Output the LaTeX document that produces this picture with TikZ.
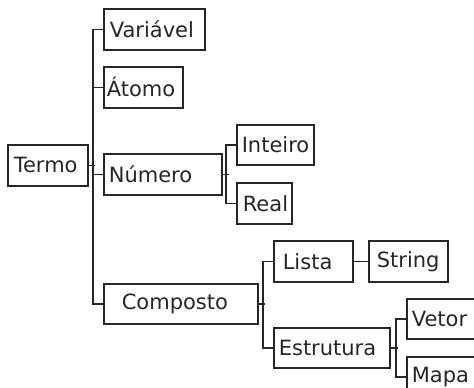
\documentclass[tikz,border=0pt]{standalone}
\usepackage{fontspec}
\setmainfont{DejaVu Sans}
\begin{document}
\begin{tikzpicture}[x=1pt,y=-1pt,
  tbox/.style={draw=black!85, line width=1.6pt, anchor=north west, align=left,
    inner ysep=0pt, font=\fontsize{21}{23}\selectfont, text=black!85},
  conn/.style={draw=black!85, line width=1.6pt}]
\useasboundingbox (0,0) rectangle (474,388);
% boxes: text width = W - 2*pad, inner xsep = pad
\node[tbox, inner xsep=6pt, text width=68pt, minimum height=41pt] (termo) at (7,144) {Termo};
\node[tbox, inner xsep=6pt, text width=89pt, minimum height=41pt] (var) at (103,8) {Variável};
\node[tbox, inner xsep=3pt, text width=73pt, minimum height=41pt] (atomo) at (103,66) {Átomo};
\node[tbox, inner xsep=5pt, text width=108pt, minimum height=41pt] (num) at (103,153) {Número};
\node[tbox, inner xsep=5pt, text width=67pt, minimum height=40pt] (int) at (236,124) {Inteiro};
\node[tbox, inner xsep=6pt, text width=43pt, minimum height=41pt] (real) at (236,182) {Real};
\node[tbox, inner xsep=18pt, text width=118pt, minimum height=40pt] (comp) at (103,283) {Composto};
\node[tbox, inner xsep=9pt, text width=61pt, minimum height=41pt] (lista) at (273,240) {Lista};
\node[tbox, inner xsep=8pt, text width=63pt, minimum height=41pt] (str) at (368,240) {String};
\node[tbox, inner xsep=5pt, text width=106pt, minimum height=40pt] (estr) at (273,327) {Estrutura};
\node[tbox, inner xsep=5pt, text width=70pt, minimum height=40pt] (vetor) at (406,298) {Vetor};
\node[tbox, inner xsep=5pt, text width=70pt, minimum height=40pt] (mapa) at (406,356) {Mapa};
% main trunk
\draw[conn] (var.west) -- ++(-10,0) |- (comp.west);
\draw[conn] (termo.east) -- ++(6.5,0);
\draw[conn] (atomo.west) -- ++(-10,0);
\draw[conn] (num.west) -- ++(-10,0);
% Numero
\draw[conn] (int.west) -- ++(-10,0) |- (real.west);
\draw[conn] (num.east) -- ++(6,0);
% Composto
\draw[conn] (lista.west) -- ++(-10,0) |- (estr.west);
\draw[conn] (comp.east) -- ++(6,0);
\draw[conn] (lista.east) -- (str.west);
% Estrutura
\draw[conn] (vetor.west) -- ++(-10,0) |- (mapa.west);
\draw[conn] (estr.east) -- ++(7,0);
\end{tikzpicture}
\end{document}
